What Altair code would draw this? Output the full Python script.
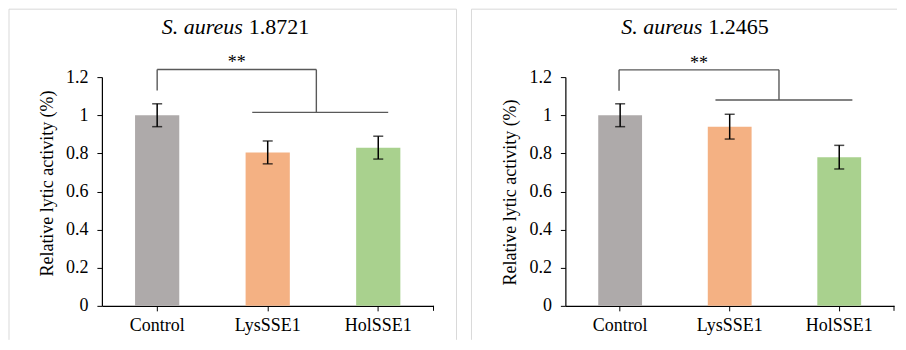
import altair as alt
import pandas as pd

# ---------------- data ----------------
categories = ["Control", "LysSSE1", "HolSSE1"]
bar_colors = ["#AEAAAA", "#F4B183", "#A9D18E"]
y_ticks = [0, 0.2, 0.4, 0.6, 0.8, 1.0, 1.2]
y_title = "Relative lytic activity (%)"
species = "S. aureus"

left_strain = "1.8721"
left_means = [1.0, 0.805, 0.83]
left_errs = [0.06, 0.06, 0.06]
# significance bracket (x in category units 0..3, y in data units)
left_br_x = [0.5, 1.94, 1.36, 2.59]      # left leg, right leg, base start, base end
left_br_y = [1.24, 1.13, 1.015]          # top, left leg end, base
left_sig = "**"

right_strain = "1.2465"
right_means = [1.0, 0.94, 0.78]
right_errs = [0.06, 0.065, 0.062]
right_br_x = [0.49, 1.95, 1.37, 2.62]
right_br_y = [1.238, 1.128, 1.08]
right_sig = "**"

FONT = "Liberation Serif"
PLOT_H = 229
BORDER = "#D9D9D9"
BORDER_BOTTOM = 263


def panel(strain, means, errs, br_x, br_y, sig, width, split_r, split_l,
          bx_left, bx_right, right_side, title_y):
    df = pd.DataFrame({
        "category": categories,
        "mean": means,
        "lo": [m - e for m, e in zip(means, errs)],
        "hi": [m + e for m, e in zip(means, errs)],
    })
    xband = alt.X("category:N", sort=categories,
                  scale=alt.Scale(domain=categories, paddingInner=0.6, paddingOuter=0.3),
                  axis=alt.Axis(title=None, labelAngle=0, tickSize=5, labelPadding=6,
                                labelFontSize=18, labelFont=FONT, domainWidth=1.2))
    yaxis = alt.Axis(values=y_ticks, format="~g", title=y_title,
                     tickSize=5, labelPadding=9, labelFontSize=18, labelFont=FONT,
                     labelOverlap=False, titleFont=FONT,
                     titleFontSize=18, titleFontWeight="normal",
                     titlePadding=9, titleY=title_y, domainWidth=1.2)
    yscale = alt.Scale(domain=[0, 1.2], nice=False, zero=True)
    base = alt.Chart(df)
    bars = base.mark_bar().encode(
        x=xband,
        y=alt.Y("mean:Q", scale=yscale, axis=yaxis),
        color=alt.Color("category:N", scale=alt.Scale(domain=categories, range=bar_colors),
                        legend=None),
    )
    err = base.mark_rule(color="black", strokeWidth=1.5).encode(
        x=alt.X("category:N", sort=categories),
        y=alt.Y("lo:Q", axis=yaxis), y2="hi:Q")
    cap_lo = base.mark_tick(color="black", thickness=1.5, size=10).encode(
        x=alt.X("category:N", sort=categories), y=alt.Y("lo:Q", axis=yaxis))
    cap_hi = base.mark_tick(color="black", thickness=1.5, size=10).encode(
        x=alt.X("category:N", sort=categories), y=alt.Y("hi:Q", axis=yaxis))
    band_layer = alt.layer(bars, err, cap_lo, cap_hi)

    xl, xr, bx1, bx2 = br_x
    yt, yl, yb = br_y
    segs = pd.DataFrame({
        "x": [xl, xl, xr, bx1],
        "x2": [xl, xr, xr, bx2],
        "y": [yl, yt, yb, yb],
        "y2": [yt, yt, yt, yb],
    })
    xq = alt.Scale(domain=[0, 3], nice=False, zero=False)
    bracket = alt.Chart(segs).mark_rule(color="#595959", strokeWidth=1.4).encode(
        x=alt.X("x:Q", scale=xq, axis=None), x2="x2:Q",
        y=alt.Y("y:Q", axis=yaxis), y2="y2:Q")
    star_df = pd.DataFrame({"x": [(xl + xr) / 2], "y": [yt], "t": [sig]})
    stars = alt.Chart(star_df).mark_text(font=FONT, fontSize=18, baseline="alphabetic",
                                         dy=-1, color="black").encode(
        x=alt.X("x:Q", scale=xq, axis=None), y=alt.Y("y:Q", axis=yaxis), text="t:N")
    quant_layer = alt.layer(bracket, stars)

    one = pd.DataFrame({"k": [0]})
    top_b = alt.Chart(one).mark_rule(color=BORDER, strokeWidth=1).encode(
        x=alt.value(bx_left), x2=alt.value(bx_right), y=alt.value(-68))
    left_b = alt.Chart(one).mark_rule(color=BORDER, strokeWidth=1).encode(
        x=alt.value(bx_left), y=alt.value(-68), y2=alt.value(BORDER_BOTTOM))
    borders = [top_b, left_b]
    if right_side:
        borders.append(alt.Chart(one).mark_rule(color=BORDER, strokeWidth=1).encode(
            x=alt.value(bx_right), y=alt.value(-68), y2=alt.value(BORDER_BOTTOM)))
    t_it = alt.Chart(one).mark_text(font=FONT, fontSize=22, fontStyle="italic", align="right",
                                    baseline="alphabetic", color="black").encode(
        x=alt.value(split_r), y=alt.value(-43), text=alt.value(species))
    t_num = alt.Chart(one).mark_text(font=FONT, fontSize=22, align="left",
                                     baseline="alphabetic", color="black").encode(
        x=alt.value(split_l), y=alt.value(-43), text=alt.value(strain))
    end_tick = alt.Chart(one).mark_rule(color="black", strokeWidth=1).encode(
        x=alt.value(width), y=alt.value(PLOT_H), y2=alt.value(PLOT_H + 5))

    return alt.layer(*borders, band_layer, quant_layer, t_it, t_num, end_tick).resolve_scale(
        x="independent").properties(width=width, height=PLOT_H)


left = panel(left_strain, left_means, left_errs, left_br_x, left_br_y, left_sig,
             332, 141, 147, -93, 355, True, 106)
right = panel(right_strain, right_means, right_errs, right_br_x, right_br_y, right_sig,
              329, 137, 143, -94, 332, False, 115)

chart = alt.hconcat(left, right, spacing=13).properties(padding=0).configure(
    font=FONT).configure_view(stroke=None).configure_axis(
    grid=False, domainColor="black", tickColor="black", labelColor="black",
    titleColor="black", labelFont=FONT, titleFont=FONT, labelOverlap=False)

chart.save("out.html", embed_options={"renderer": "svg", "actions": False})
